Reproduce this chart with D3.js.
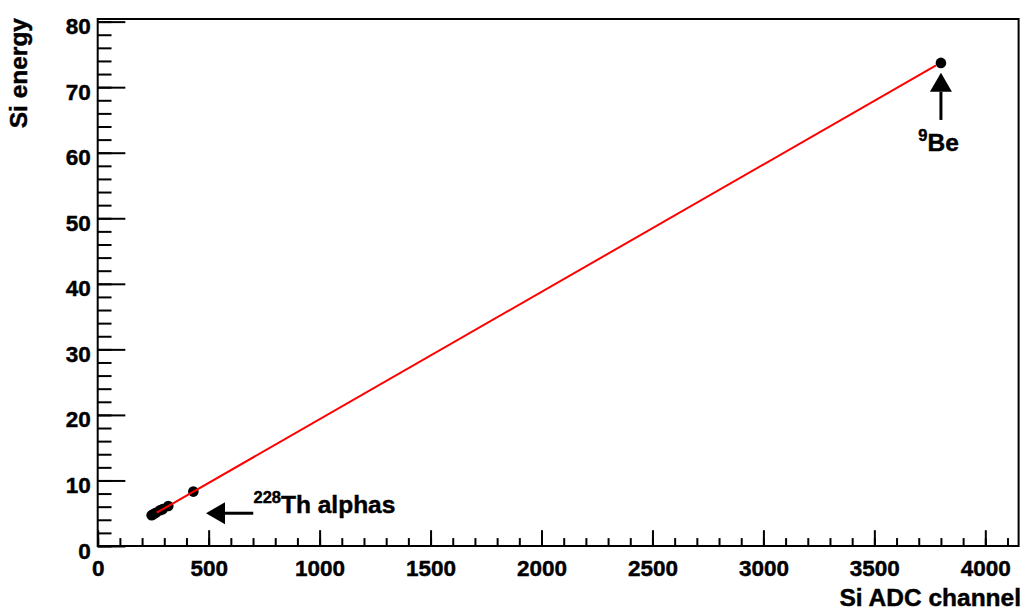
<!DOCTYPE html>
<html>
<head>
<meta charset="utf-8">
<script src="https://cdn.jsdelivr.net/npm/d3@7"></script>
<style>
  html, body { margin: 0; padding: 0; background: #fff; }
  svg { display: block; }
  text { font-family: "Liberation Sans", Arial, Helvetica, sans-serif; font-weight: bold; fill: #000; stroke: #000; stroke-width: 0.45px; }
</style>
</head>
<body>
<svg id="chart" width="1025" height="611"></svg>
<script>
// Calibration points: ADC channel vs deposited energy (MeV)
const thChannels = [243, 249, 262, 281, 293, 318, 431];
const thEnergies = [4.70, 4.82, 5.08, 5.45, 5.62, 6.10, 8.30];
const beChannels = [3800];
const beEnergies = [73.7];

// Linear calibration fit: E = p0 + p1 * channel
const fitP0 = -0.09;
const fitP1 = 0.01943;
const fitRange = [266, 3778];

// Axis ticks
const xTickValues = [0, 500, 1000, 1500, 2000, 2500, 3000, 3500, 4000];
const yTickValues = [0, 10, 20, 30, 40, 50, 60, 70, 80];
const xDomain = [0, 4150];
const yDomain = [0, 80.4];

const svg = d3.select("#chart");
const frame = { left: 97.7, right: 1018.6, top: 19, bottom: 546 };

const x = d3.scaleLinear().domain(xDomain).range([frame.left, frame.right]);
const y = d3.scaleLinear().domain(yDomain).range([frame.bottom, frame.top]);

const plotH = frame.bottom - frame.top;
const plotW = frame.right - frame.left;
const xMajorLen = 0.03 * plotH, yMajorLen = 0.03 * plotW;

// minor tick positions: 5 divisions per major interval
const xMinor = d3.range(0, xDomain[1] + 1e-9, 100);
const yMinor = d3.range(0, yDomain[1] + 1e-9, 2);

// X axis ticks (drawn inward)
const gx = svg.append("g").attr("transform", `translate(0,${frame.bottom})`);
gx.append("g").call(d3.axisBottom(x).tickValues(xMinor).tickSize(-xMajorLen / 2).tickFormat(""));
gx.append("g").call(d3.axisBottom(x).tickValues(xTickValues).tickSize(-xMajorLen).tickFormat(""));
gx.selectAll("path.domain").remove();
gx.selectAll("line").attr("stroke", "#000").attr("stroke-width", 2);
gx.append("g").call(d3.axisBottom(x).tickValues(xTickValues).tickSize(0).tickPadding(0).tickFormat(d3.format("d")))
  .call(g => g.select("path.domain").remove())
  .selectAll("text")
  .attr("dy", null)
  .attr("y", 30.3)
  .style("font-size", "22.5px")
  .attr("font-family", null);

// Y axis ticks (drawn inward)
const gy = svg.append("g").attr("transform", `translate(${frame.left},0)`);
gy.append("g").call(d3.axisLeft(y).tickValues(yMinor).tickSize(-yMajorLen / 2).tickFormat(""));
gy.append("g").call(d3.axisLeft(y).tickValues(yTickValues).tickSize(-yMajorLen).tickFormat(""));
gy.selectAll("path.domain").remove();
gy.selectAll("line").attr("stroke", "#000").attr("stroke-width", 2);
gy.append("g").call(d3.axisLeft(y).tickValues(yTickValues).tickSize(0).tickPadding(0).tickFormat(d3.format("d")))
  .call(g => g.select("path.domain").remove())
  .selectAll("text")
  .attr("dy", null)
  .attr("x", -7)
  .attr("y", 12)
  .style("font-size", "22.5px")
  .attr("font-family", null);

// Frame
svg.append("rect")
  .attr("x", frame.left).attr("y", frame.top)
  .attr("width", plotW).attr("height", plotH)
  .attr("fill", "none").attr("stroke", "#000").attr("stroke-width", 2);

// Axis titles
svg.append("text")
  .attr("x", 1021).attr("y", 606)
  .attr("text-anchor", "end")
  .style("font-size", "24.5px")
  .text("Si ADC channel");

svg.append("text")
  .attr("transform", `translate(27,${frame.top - 1}) rotate(-90)`)
  .attr("text-anchor", "end")
  .style("font-size", "24.5px")
  .text("Si energy");

// Data markers
const points = thChannels.map((c, i) => ({ c, e: thEnergies[i] }))
  .concat(beChannels.map((c, i) => ({ c, e: beEnergies[i] })));

svg.append("g").selectAll("circle")
  .data(points)
  .join("circle")
  .attr("cx", d => x(d.c))
  .attr("cy", d => y(d.e))
  .attr("r", 5.3)
  .attr("fill", "#000");

// Fit line
const fitLine = d3.line().x(d => x(d)).y(d => y(fitP0 + fitP1 * d));
svg.append("path")
  .datum(fitRange)
  .attr("d", fitLine)
  .attr("fill", "none")
  .attr("stroke", "#ff0000")
  .attr("stroke-width", 2);

// Annotation arrows (data coordinates)
function arrow(x1, y1, x2, y2) {
  const px1 = x(x1), py1 = y(y1), px2 = x(x2), py2 = y(y2);
  const ang = Math.atan2(py2 - py1, px2 - px1);
  const headLen = 19, headHalf = 11;
  const bx = px2 - headLen * Math.cos(ang), by = py2 - headLen * Math.sin(ang);
  const g = svg.append("g");
  g.append("line")
    .attr("x1", px1).attr("y1", py1).attr("x2", bx).attr("y2", by)
    .attr("stroke", "#000").attr("stroke-width", 3);
  const nx = -Math.sin(ang), ny = Math.cos(ang);
  g.append("polygon")
    .attr("points", [
      [px2, py2],
      [bx + nx * headHalf, by + ny * headHalf],
      [bx - nx * headHalf, by - ny * headHalf]
    ].map(p => p.join(",")).join(" "))
    .attr("fill", "#000");
}

arrow(701, 5.0, 488, 5.0);
arrow(3800, 65.0, 3800, 72.2);

// Annotation labels with superscript mass numbers
function isotopeLabel(xv, yv, mass, rest) {
  const t = svg.append("text")
    .attr("x", x(xv)).attr("y", y(yv))
    .style("font-size", "24.5px");
  t.append("tspan").text(mass).style("font-size", "16.5px").attr("dy", -10);
  t.append("tspan").text(rest).attr("dy", 10);
}

isotopeLabel(702, 5.0, "228", "Th alphas");
isotopeLabel(3698, 60.2, "9", "Be");
</script>
</body>
</html>
